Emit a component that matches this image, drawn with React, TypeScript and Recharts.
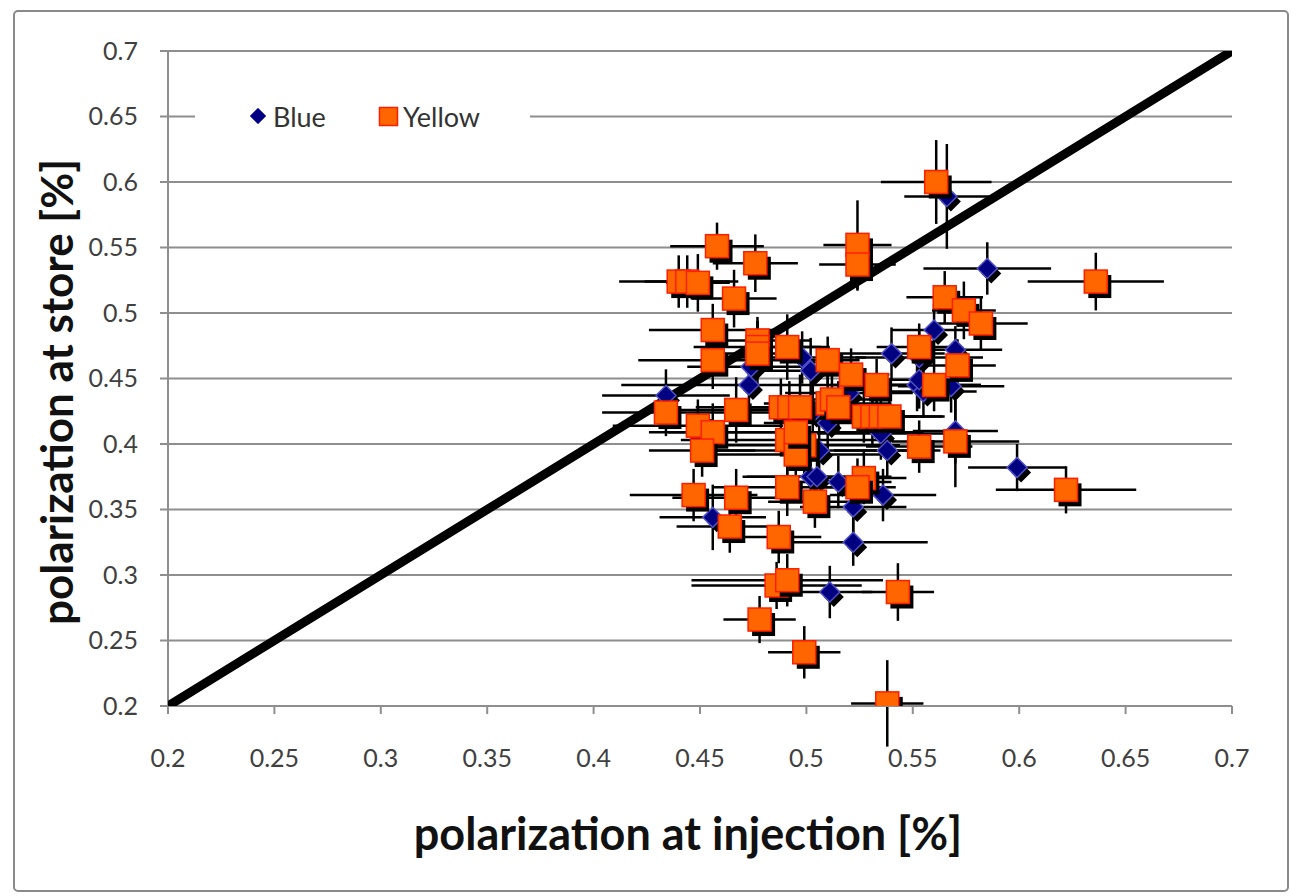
import React from 'react';
import { ScatterChart, Scatter, XAxis, YAxis, CartesianGrid, ErrorBar, Legend, Label } from 'recharts';

// Axis ticks
const xTicks = [0.2, 0.25, 0.3, 0.35, 0.4, 0.45, 0.5, 0.55, 0.6, 0.65, 0.7];
const yTicks = [0.2, 0.25, 0.3, 0.35, 0.4, 0.45, 0.5, 0.55, 0.6, 0.65, 0.7];
const tickLabels = ['0.2', '0.25', '0.3', '0.35', '0.4', '0.45', '0.5', '0.55', '0.6', '0.65', '0.7'];

// Series "Yellow"
const yellowX = [0.561, 0.458, 0.524, 0.524, 0.476, 0.440, 0.444, 0.449, 0.636, 0.466, 0.565, 0.574, 0.582, 0.456, 0.477, 0.477, 0.477, 0.456, 0.491, 0.510, 0.553, 0.521, 0.533, 0.560, 0.571, 0.434, 0.449, 0.456, 0.451, 0.467, 0.488, 0.492, 0.497, 0.510, 0.512, 0.515, 0.527, 0.531, 0.535, 0.539, 0.553, 0.570, 0.491, 0.499, 0.495, 0.495, 0.491, 0.467, 0.447, 0.504, 0.527, 0.524, 0.464, 0.487, 0.486, 0.491, 0.478, 0.543, 0.499, 0.538, 0.622];
const yellowY = [0.600, 0.551, 0.552, 0.537, 0.538, 0.524, 0.524, 0.523, 0.524, 0.511, 0.512, 0.502, 0.492, 0.487, 0.479, 0.474, 0.469, 0.464, 0.474, 0.464, 0.474, 0.453, 0.445, 0.445, 0.460, 0.424, 0.414, 0.409, 0.395, 0.426, 0.428, 0.428, 0.428, 0.431, 0.434, 0.428, 0.421, 0.421, 0.421, 0.421, 0.398, 0.402, 0.403, 0.399, 0.392, 0.409, 0.367, 0.359, 0.361, 0.356, 0.374, 0.367, 0.337, 0.329, 0.292, 0.296, 0.266, 0.287, 0.241, 0.202, 0.365];
const yellowXErr = [0.026, 0.022, 0.016, 0.018, 0.020, 0.028, 0.020, 0.015, 0.032, 0.020, 0.018, 0.015, 0.022, 0.030, 0.025, 0.030, 0.020, 0.035, 0.020, 0.015, 0.020, 0.018, 0.022, 0.022, 0.018, 0.030, 0.040, 0.030, 0.025, 0.030, 0.040, 0.030, 0.035, 0.030, 0.025, 0.020, 0.025, 0.020, 0.030, 0.025, 0.025, 0.030, 0.050, 0.045, 0.040, 0.060, 0.035, 0.030, 0.030, 0.022, 0.020, 0.018, 0.025, 0.020, 0.040, 0.045, 0.017, 0.017, 0.017, 0.017, 0.033];
const yellowYErr = [0.032, 0.018, 0.034, 0.020, 0.022, 0.020, 0.020, 0.022, 0.022, 0.022, 0.020, 0.022, 0.020, 0.020, 0.018, 0.020, 0.025, 0.022, 0.025, 0.018, 0.018, 0.020, 0.020, 0.020, 0.020, 0.018, 0.020, 0.022, 0.020, 0.025, 0.022, 0.020, 0.025, 0.022, 0.020, 0.020, 0.020, 0.022, 0.020, 0.018, 0.020, 0.035, 0.030, 0.025, 0.020, 0.025, 0.022, 0.022, 0.020, 0.020, 0.020, 0.022, 0.020, 0.020, 0.018, 0.020, 0.018, 0.022, 0.020, 0.033, 0.018];

// Series "Blue"
const blueX = [0.566, 0.585, 0.560, 0.540, 0.570, 0.553, 0.474, 0.473, 0.498, 0.502, 0.552, 0.555, 0.553, 0.568, 0.520, 0.434, 0.503, 0.510, 0.535, 0.538, 0.506, 0.570, 0.502, 0.505, 0.515, 0.536, 0.522, 0.522, 0.456, 0.511, 0.599];
const blueY = [0.589, 0.534, 0.487, 0.469, 0.472, 0.466, 0.459, 0.445, 0.466, 0.456, 0.445, 0.440, 0.449, 0.444, 0.439, 0.437, 0.424, 0.416, 0.408, 0.395, 0.395, 0.410, 0.375, 0.375, 0.371, 0.361, 0.352, 0.325, 0.344, 0.287, 0.382];
const blueXErr = [0.020, 0.030, 0.020, 0.025, 0.022, 0.030, 0.030, 0.060, 0.030, 0.025, 0.030, 0.025, 0.020, 0.025, 0.030, 0.030, 0.040, 0.030, 0.030, 0.025, 0.050, 0.020, 0.030, 0.035, 0.025, 0.025, 0.025, 0.035, 0.025, 0.020, 0.023];
const blueYErr = [0.040, 0.020, 0.020, 0.020, 0.018, 0.022, 0.020, 0.030, 0.020, 0.025, 0.020, 0.020, 0.022, 0.020, 0.022, 0.020, 0.025, 0.022, 0.020, 0.020, 0.022, 0.025, 0.020, 0.020, 0.020, 0.020, 0.020, 0.018, 0.025, 0.020, 0.018];

// Reference diagonal y = x
const diagX = [0.2, 0.7];

const yellowData = yellowX.map((x, i) => ({ x, y: yellowY[i], ex: yellowXErr[i], ey: yellowYErr[i] }));
const blueData = blueX.map((x, i) => ({ x, y: blueY[i], ex: blueXErr[i], ey: blueYErr[i] }));
const diagData = diagX.map((v) => ({ x: v, y: v }));

const FONT = 'Lato, "Open Sans", sans-serif';

const SquareShape = (props: any) => {
  const { cx, cy } = props;
  if (cx == null || cy == null) return <g />;
  const s = 23;
  return (
    <g>
      <rect x={cx - s / 2 + 4} y={cy - s / 2 + 5} width={s} height={s} fill="#000" />
      <rect x={cx - s / 2} y={cy - s / 2} width={s} height={s} fill="#FF6600" stroke="#FF1E00" strokeWidth={1.5} />
    </g>
  );
};

const DiamondShape = (props: any) => {
  const { cx, cy } = props;
  if (cx == null || cy == null) return <g />;
  const r = 10;
  const pts = (ox: number, oy: number) =>
    `${cx + ox},${cy + oy - r} ${cx + ox + r},${cy + oy} ${cx + ox},${cy + oy + r} ${cx + ox - r},${cy + oy}`;
  return (
    <g>
      <polygon points={pts(4, 5)} fill="#000" />
      <polygon points={pts(0, 0)} fill="#000080" stroke="#5050c8" strokeWidth={1.5} />
    </g>
  );
};

const EmptyShape = () => <g />;

const LegendContent = () => (
  <div
    style={{
      background: '#fff',
      width: 335,
      height: 40,
      display: 'flex',
      alignItems: 'center',
      fontFamily: FONT,
      fontSize: 27,
      color: '#333',
    }}
  >
    <svg width={18} height={18} style={{ marginLeft: 54, flex: 'none' }}>
      <polygon points="9,1 17,9 9,17 1,9" fill="#000080" stroke="#5050c8" strokeWidth={1} />
    </svg>
    <span style={{ marginLeft: 6 }}>Blue</span>
    <svg width={21} height={21} style={{ marginLeft: 52, flex: 'none' }}>
      <rect x={1.5} y={1.5} width={18} height={18} fill="#FF6600" stroke="#FF1E00" strokeWidth={1.5} />
    </svg>
    <span style={{ marginLeft: 4 }}>Yellow</span>
  </div>
);

export default function App() {
  return (
    <div
      style={{
        position: 'absolute',
        left: 13,
        top: 10,
        width: 1276,
        height: 882,
        boxSizing: 'border-box',
        border: '2px solid #8a8a8a',
        borderRadius: 5,
        background: '#fff',
      }}
    >
      <ScatterChart width={1272} height={878} margin={{ top: 39, right: 55, bottom: 124, left: 93 }}>
        <CartesianGrid horizontal vertical={false} stroke="#8e8e8e" strokeWidth={2} />
        <XAxis
          type="number"
          dataKey="x"
          domain={[0.2, 0.7]}
          ticks={xTicks}
          tickFormatter={(v: number) => tickLabels[xTicks.indexOf(v)] ?? String(v)}
          interval={0}
          allowDataOverflow
          height={60}
          tickSize={8}
          tickMargin={35}
          axisLine={{ stroke: '#8e8e8e', strokeWidth: 2 }}
          tickLine={{ stroke: '#8e8e8e', strokeWidth: 2 }}
          tick={{ fill: '#404040', fontSize: 25, fontFamily: FONT }}
        >
          <Label
            content={() => (
              <text x={673} y={821} textAnchor="middle" dominantBaseline="central" fontFamily={FONT} fontWeight={700} fontSize={45} fill="#111">
                polarization at injection [%]
              </text>
            )}
          />
        </XAxis>
        <YAxis
          type="number"
          dataKey="y"
          domain={[0.2, 0.7]}
          ticks={yTicks}
          tickFormatter={(v: number) => tickLabels[yTicks.indexOf(v)] ?? String(v)}
          interval={0}
          allowDataOverflow
          width={60}
          tickSize={8}
          tickMargin={22}
          axisLine={{ stroke: '#8e8e8e', strokeWidth: 2 }}
          tickLine={{ stroke: '#8e8e8e', strokeWidth: 2 }}
          tick={{ fill: '#404040', fontSize: 25, fontFamily: FONT }}
        >
          <Label
            content={() => (
              <text x={41} y={380} transform="rotate(-90 41 380)" textAnchor="middle" dominantBaseline="central" fontFamily={FONT} fontWeight={700} fontSize={44} fill="#111">
                polarization at store [%]
              </text>
            )}
          />
        </YAxis>
        <Legend
          layout="horizontal"
          verticalAlign="middle"
          align="center"
          content={LegendContent}
          wrapperStyle={{ position: 'absolute', left: 180, top: 84, width: 335, height: 40 }}
        />
        <Scatter
          name="diag"
          data={diagData}
          line={{ stroke: '#000', strokeWidth: 9 }}
          lineType="joint"
          shape={EmptyShape}
          legendType="none"
          isAnimationActive={false}
        />
        <Scatter name="Blue" data={blueData} shape={DiamondShape} isAnimationActive={false}>
          <ErrorBar dataKey="ex" direction="x" width={0} stroke="#000" strokeWidth={2.5} />
          <ErrorBar dataKey="ey" direction="y" width={0} stroke="#000" strokeWidth={2.5} />
        </Scatter>
        <Scatter name="Yellow" data={yellowData} shape={SquareShape} isAnimationActive={false}>
          <ErrorBar dataKey="ex" direction="x" width={0} stroke="#000" strokeWidth={2.5} />
          <ErrorBar dataKey="ey" direction="y" width={0} stroke="#000" strokeWidth={2.5} />
        </Scatter>
      </ScatterChart>
    </div>
  );
}
